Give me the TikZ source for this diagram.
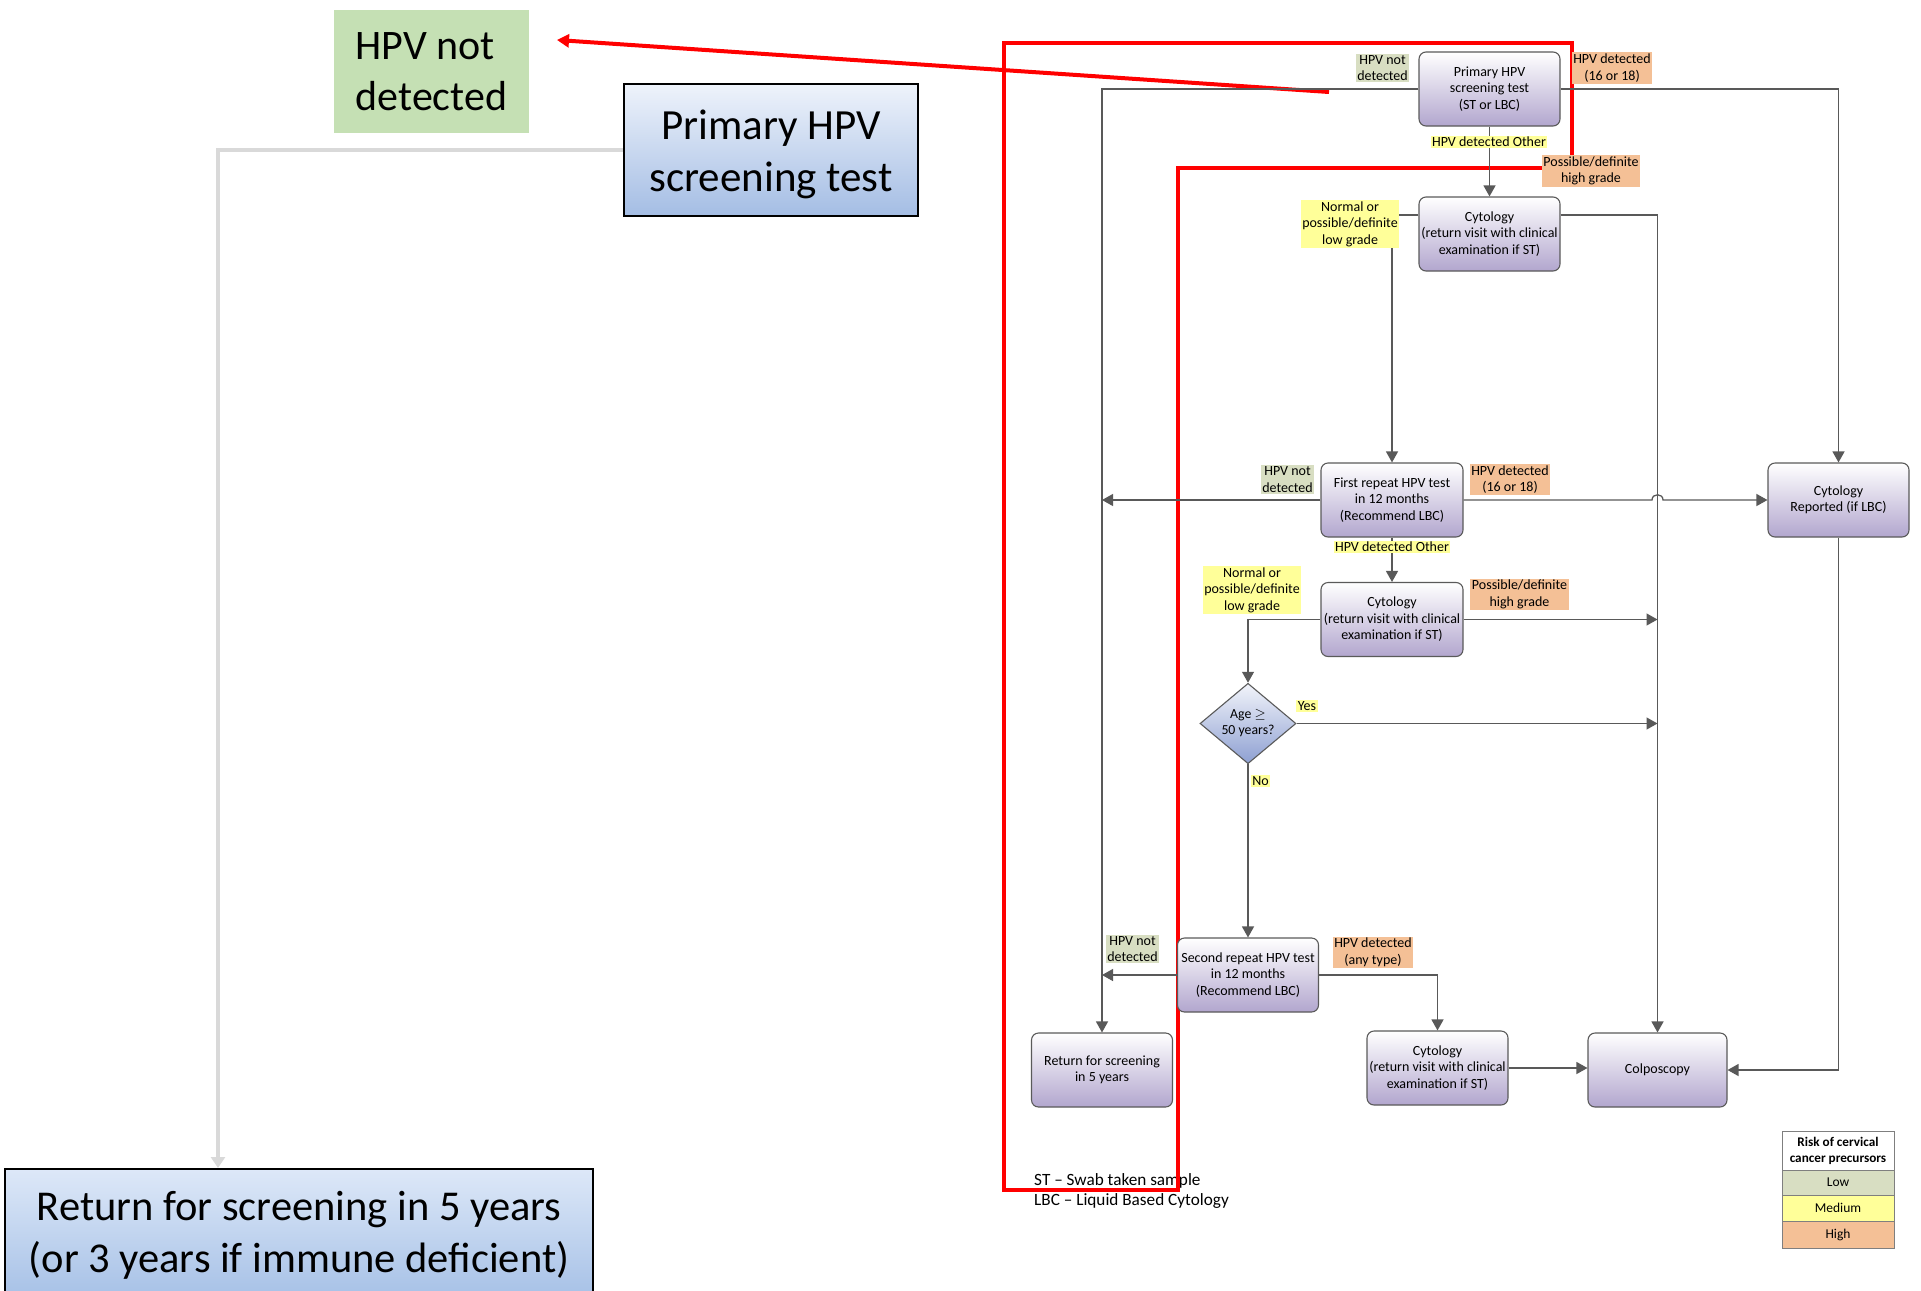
\documentclass[tikz,border=0pt]{standalone}
\usepackage{fontspec}
\setmainfont{Carlito}
\usetikzlibrary{arrows.meta,shapes.geometric,calc}
\definecolor{lineg}{HTML}{595959}
\definecolor{boxb}{HTML}{5A5A5A}
\definecolor{lav}{RGB}{178,166,206}
\definecolor{lowc}{RGB}{216,222,194}
\definecolor{medc}{HTML}{FFFF99}
\definecolor{highc}{RGB}{244,192,150}
\definecolor{bigblueT}{RGB}{238,243,251}
\definecolor{bigblueB}{RGB}{164,189,228}
\definecolor{retT}{RGB}{221,232,248}
\definecolor{retB}{RGB}{165,192,230}
\definecolor{diaT}{RGB}{242,244,250}
\definecolor{diaB}{RGB}{142,160,210}
\definecolor{bggreen}{RGB}{197,224,180}
\definecolor{redl}{HTML}{FF0000}
\definecolor{greyc}{HTML}{D9D9D9}
\definecolor{legb}{HTML}{7F7F7F}
\begin{document}
\begin{tikzpicture}[x=1pt,y=-1pt,
 fbox/.style={draw=boxb, line width=1.1pt, rounded corners=7pt, top color=white, bottom color=lav,
   minimum width=141pt, minimum height=74pt, align=center, inner sep=1pt,
   font=\fontsize{14}{16.5}\selectfont},
 dia/.style={diamond, draw=boxb, line width=1.1pt, top color=diaT, bottom color=diaB,
   minimum width=96pt, minimum height=76pt, inner sep=0pt, align=center,
   font=\fontsize{13.8}{16}\selectfont},
 lab/.style={fill=#1, align=center, inner sep=1.5pt, font=\fontsize{14}{16.5}\selectfont},
 conn/.style={draw=lineg, line width=1.3pt, -{Triangle[length=11pt,width=12pt]}},
 leg/.style={draw=legb, line width=1pt, minimum width=112pt, inner sep=0pt, align=center,
   font=\fontsize{13.5}{16}\selectfont},
]
\useasboundingbox (0,0) rectangle (1921,1290);

% ---------- left, large items ----------
\node[fill=bggreen, minimum width=195pt, minimum height=123pt, align=left, inner sep=0pt,
      font=\fontsize{42}{51}\selectfont] (hnd) at (431.5,71.5) {HPV not\\detected};
\node[draw=black, line width=2pt, top color=bigblueT, bottom color=bigblueB,
      minimum width=294pt, minimum height=132pt, align=center,
      font=\fontsize{43}{52}\selectfont] (bp) at (771,150) {\rule{0pt}{38pt}Primary HPV\\screening test};
\node[draw=black, line width=2pt, top color=retT, bottom color=retB, anchor=north west,
      minimum width=588pt, minimum height=132pt, align=center,
      font=\fontsize{42.5}{52}\selectfont] (ret) at (4,1168)
      {Return for screening in 5 years\\(or 3 years if immune deficient)};
\coordinate (g1) at (218,150);
\draw[greyc, line width=4.5pt, -{Triangle[length=11pt,width=14pt]}]
  (bp.west) -- (g1) -- (g1 |- ret.north);

% ---------- footnote ----------
\node[anchor=base west, inner sep=0pt, font=\fontsize{17.2}{20}\selectfont] (fn1) at (1034,1185) {ST – Swab taken sample};
\node[anchor=base west, inner sep=0pt, font=\fontsize{17.2}{20}\selectfont] (fn2) at (1034,1205) {LBC – Liquid Based Cytology};

% ---------- red overlay ----------
\draw[redl, line width=4.5pt] (1004,43) -- (1572,43) -- (1572,168) -- (1178,168) -- (1178,1190) -- (1004,1190) -- cycle;
\coordinate (ra) at (1329,92);
\coordinate (rb) at (557,40);
\draw[redl, line width=4pt, -{Triangle[length=12pt,width=13pt]}] (ra) -- (rb);

% ---------- flowchart boxes ----------
\node[fbox] (p1) at (1489.5,89) {Primary HPV\\screening test\\(ST or LBC)};
\node[fbox] (c1) at (1489.5,234) {Cytology\\(return visit with clinical\\examination if ST)};
\node[fbox, minimum width=142pt] (fr) at (1392,500) {First repeat HPV test\\in 12 months\\(Recommend LBC)};
\node[fbox] (cr) at (1838.5,500) {Cytology\\Reported (if LBC)};
\node[fbox, minimum width=142pt] (c2) at (1392,619.5) {Cytology\\(return visit with clinical\\examination if ST)};
\node[dia] (d) at (1248,723.5) {Age $\geq$\\50 years?};
\node[fbox] (sr) at (1248,975) {Second repeat HPV test\\in 12 months\\(Recommend LBC)};
\node[fbox] (rs) at (1102,1070) {Return for screening\\in 5 years};
\node[fbox] (c3) at (1437.5,1068) {Cytology\\(return visit with clinical\\examination if ST)};
\node[fbox, minimum width=139pt] (co) at (1657.5,1070) {Colposcopy};

% ---------- connectors ----------
\draw[conn] (p1.west) -| (rs.north);
\draw[conn] (p1.east) -| (cr.north);
\draw[conn] (p1.south) -- (c1.north);
\path (c1.west) ++(0,-19) coordinate (c1l);
\path (c1.east) ++(0,-19) coordinate (c1r);
\draw[conn] (c1l) -| (fr.north);
\draw[conn] (c1r) -| (co.north);
\coordinate (j1) at (1102,500);
\draw[conn] (fr.west) -- (j1);
\draw[conn] (fr.east) -- (1652,500) .. controls (1652,493) and (1663,493) .. (1663,500) -- (cr.west);
\draw[conn] (fr.south) -- (c2.north);
\draw[conn] (c2.west) -| (d.north);
\coordinate (j2) at (1657.5,619.5);
\draw[conn] (c2.east) -- (j2);
\coordinate (j3) at (1657.5,723.5);
\draw[conn] (d.east) -- (j3);
\draw[conn] (d.south) -- (sr.north);
\coordinate (j4) at (1102,975);
\draw[conn] (sr.west) -- (j4);
\draw[conn] (sr.east) -| (c3.north);
\draw[conn] (c3.east) -- (c3.east -| co.west);
\draw[conn] (cr.south) |- (co.east);

% ---------- labels ----------
\node[lab=lowc] (l1) at (1382.5,68) {HPV not\\detected};
\node[lab=highc] (l2) at (1612,68) {HPV detected\\(16 or 18)};
\node[lab=medc] (l3) at (1489,142) {HPV detected Other};
\node[lab=highc] (l4) at (1591,171) {Possible/definite\\high grade};
\node[lab=medc] (l5) at (1350,224) {Normal or\\possible/definite\\low grade};
\node[lab=lowc] (l6) at (1287.5,479.5) {HPV not\\detected};
\node[lab=highc] (l7) at (1510,479.5) {HPV detected\\(16 or 18)};
\node[lab=medc] (l8) at (1392,547) {HPV detected Other};
\node[lab=medc] (l9) at (1252,590) {Normal or\\possible/definite\\low grade};
\node[lab=highc] (l10) at (1519.5,594.5) {Possible/definite\\high grade};
\node[lab=medc] (l11) at (1307,706) {Yes};
\node[lab=medc] (l12) at (1260.5,781) {No};
\node[lab=lowc] (l13) at (1132.5,949) {HPV not\\detected};
\node[lab=highc] (l14) at (1373,952.5) {HPV detected\\(any type)};

% ---------- legend ----------
\node[leg, fill=white, minimum height=39pt, font=\bfseries\fontsize{13.2}{16}\selectfont] (lg0) at (1838,1150.5) {Risk of cervical\\cancer precursors};
\node[leg, fill=lowc, minimum height=25pt] (lg1) at (1838,1182.5) {Low};
\node[leg, fill=medc, minimum height=26pt] (lg2) at (1838,1208) {Medium};
\node[leg, fill=highc, minimum height=27pt] (lg3) at (1838,1234.5) {High};
\end{tikzpicture}
\end{document}
